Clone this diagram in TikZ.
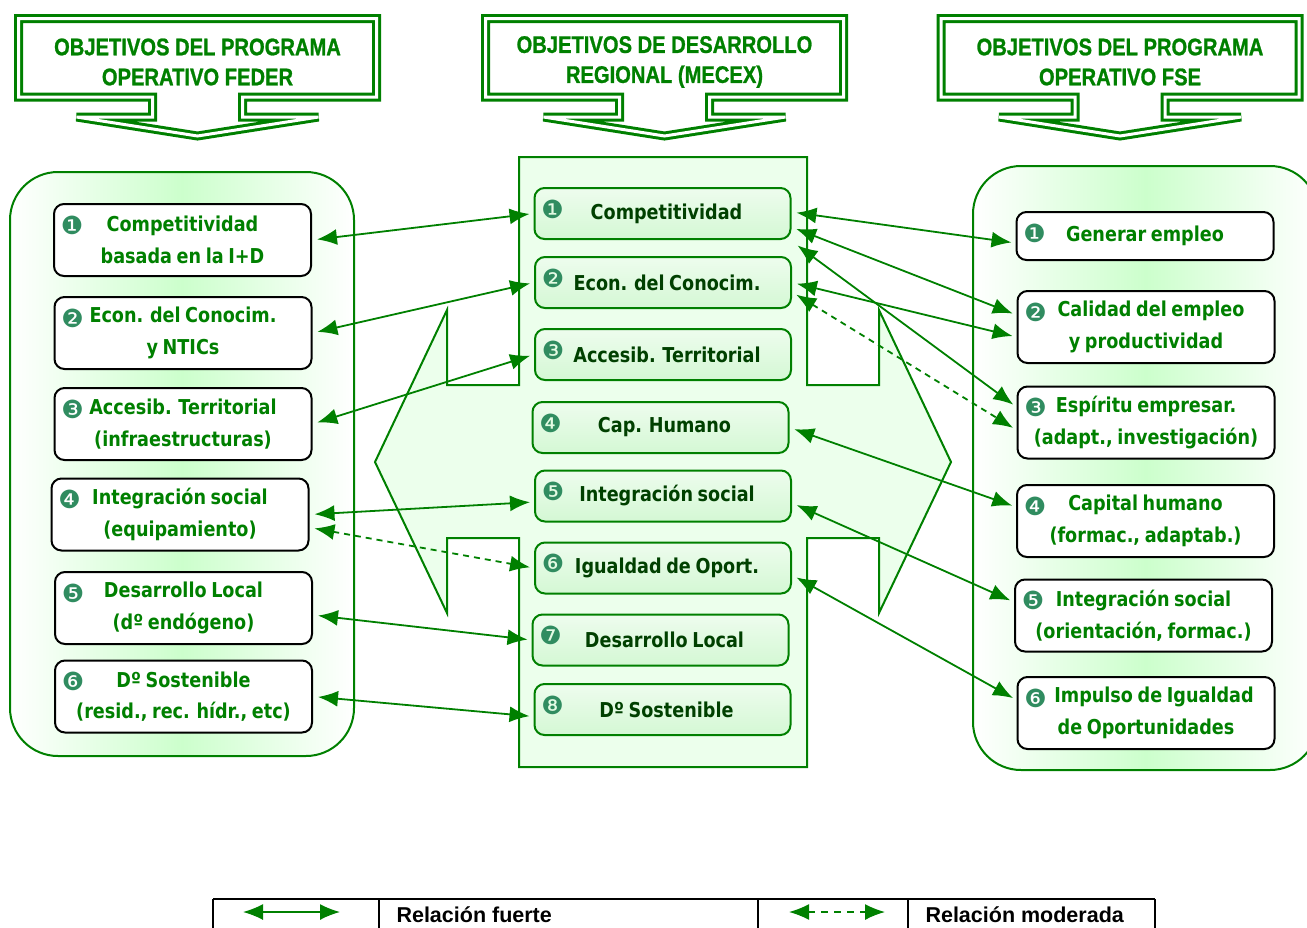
\documentclass[tikz,border=0pt]{standalone}
\usepackage{fontspec}
\setmainfont{DejaVu Sans}[FakeStretch=0.86, WordSpace=0.75]
\newfontfamily\numfont{DejaVu Sans}
\newfontfamily\headfont{Liberation Sans Bold}[FakeStretch=0.84, FakeBold=1]
\newfontfamily\legfont{Liberation Sans}
\usetikzlibrary{arrows.meta, positioning, calc}

\definecolor{objgreen}{RGB}{0,128,0}
\definecolor{objdark}{RGB}{0,64,0}
\definecolor{numgreen}{RGB}{48,140,96}
\definecolor{panelgreen}{RGB}{204,255,204}
\definecolor{crossgreen}{RGB}{236,255,236}
\definecolor{boxgreen}{RGB}{212,248,212}

\newcommand\onum[1]{{\numfont\char\numexpr"2775+#1\relax}}

\begin{document}
\begin{tikzpicture}[x=1pt, y=-1pt,
	headline/.style={draw=objgreen, fill=white, line width=3pt, double=white, double distance=3pt, miter limit=4},
	headtext/.style={text=objgreen, align=center, font=\headfont\fontsize{24}{30}\selectfont},
	panel/.style={draw=objgreen, line width=2pt, rounded corners=48pt, left color=white, right color=white, middle color=panelgreen},
	objbox/.style={draw=black, line width=2pt, rounded corners=10pt, fill=white, minimum width=257pt, minimum height=72pt, inner sep=0pt, align=center, text=objgreen, font=\bfseries\fontsize{20.5}{31.5}\selectfont},
	midbox/.style={draw=objgreen, line width=2pt, rounded corners=10pt, top color=boxgreen!40!white, middle color=white, bottom color=boxgreen, minimum width=256pt, minimum height=51pt, inner sep=0pt, text=objdark, font=\bfseries\fontsize{20.5}{31.5}\selectfont},
	num/.style={anchor=center, xshift=19pt, yshift=-22pt, inner sep=0pt, text=numgreen, font=\fontsize{25}{25}\selectfont},
	link/.style={objgreen, line width=1.8pt, {Latex[length=20pt,width=16pt]}-{Latex[length=20pt,width=16pt]}, shorten <=5pt, shorten >=4pt},
	weak/.style={link, dash pattern=on 6pt off 5pt},
	legline/.style={black, line width=1.5pt},
	legtext/.style={anchor=base west, font=\legfont\bfseries\fontsize{21.5}{24}\selectfont}]
	\useasboundingbox (0,0) rectangle (1307,927);

	% side panels
	\draw[panel] (10,172) rectangle (354,756);
	\draw[panel] (973,166) rectangle (1318,770);

	% central cross
	\draw[objgreen, line width=2pt, fill=crossgreen] (519,157) -- (807,157) -- (807,385) -- (879,385) -- (879,310) -- (951,462) -- (879,613) -- (879,538) -- (807,538) -- (807,767) -- (519,767) -- (519,538) -- (447,538) -- (447,613) -- (375,462) -- (447,310) -- (447,385) -- (519,385) -- cycle;

	% headers
	\foreach \cx/\name/\txt in {197.5/feder/{OBJETIVOS DEL PROGRAMA\\OPERATIVO FEDER}, 664.5/mecex/{OBJETIVOS DE DESARROLLO\\REGIONAL (MECEX)}, 1120/fse/{OBJETIVOS DEL PROGRAMA\\OPERATIVO FSE}}{
		\begin{scope}[xshift=\cx pt]
			\draw[headline] (-179,18.5) -- (179,18.5) -- (179,97) -- (45,97) -- (45,117) -- (121,117) -- (0,136) -- (-121,117) -- (-45,117) -- (-45,97) -- (-179,97) -- cycle;
			\node[headtext] (\name) at (0,62) {\txt};
		\end{scope}
	}

	% FEDER objectives
	\foreach \i/\x/\y/\txt in {1/182.5/240/{Competitividad\\basada en la I+D}, 2/183/333/{Econ. del Conocim.\\y NTICs}, 3/183/424/{Accesib. Territorial\\(infraestructuras)}, 4/180/514.5/{Integración social\\(equipamiento)}, 5/183.5/608/{Desarrollo Local\\(dº endógeno)}, 6/183.5/696.5/{Dº Sostenible\\(resid., rec. hídr., etc)}}
		\node[objbox, label={[num]north west:\onum{\i}}] (f\i) at (\x,\y) {\txt};

	% MECEX objectives
	\foreach \i/\x/\y/\txt in {1/662.5/213.5/Competitividad, 2/663/282.5/Econ. del Conocim., 3/663/354.5/Accesib. Territorial, 4/660.5/427.5/Cap. Humano, 5/663/496/Integración social, 6/663/568/Igualdad de Oport., 7/660.5/640/Desarrollo Local, 8/662.5/709.5/Dº Sostenible}
		\node[midbox, label={[num]north west:\onum{\i}}] (m\i) at (\x,\y) {\hspace*{8pt}\txt};

	% FSE objectives
	\foreach \i/\x/\y/\h/\txt in {1/1145/236/48/{Generar empleo}, 2/1146/327/72/{\hspace*{10pt}Calidad del empleo\\y productividad}, 3/1146/422.5/72/{Espíritu empresar.\\(adapt., investigación)}, 4/1145.5/521/72/{Capital humano\\(formac., adaptab.)}, 5/1143.5/615.5/72/{Integración social\\(orientación, formac.)}, 6/1146/713/72/{\hspace*{16pt}Impulso de Igualdad\\de Oportunidades}}
		\node[objbox, minimum height=\h pt, label={[num]north west:\onum{\i}}] (s\i) at (\x,\y) {\txt};

	% relations FEDER - MECEX
	\draw[link] (f1.east) -- (m1.west);
	\draw[link] (f2.east) -- (m2.west);
	\draw[link] (f3.east) -- (m3.west);
	\draw[link] (f4.east) -- ($(m5.west)+(0,6)$);
	\draw[weak] ($(f4.east)+(0,13)$) -- (m6.west);
	\draw[link] ($(f5.east)+(0,7)$) -- (m7.west);
	\draw[link] (f6.east) -- ($(m8.west)+(0,7)$);

	% relations MECEX - FSE
	\draw[link] ($(m1.east)+(0,-1.5)$) -- ($(s1.west)+(0,7)$);
	\draw[link] ($(m1.east)+(0,13.5)$) -- ($(s2.west)+(0,-12)$);
	\draw[link] ($(m1.east)+(2,29)$) -- ($(s3.west)+(0,-15.5)$);
	\draw[link] (m2.east) -- ($(s2.west)+(0,10)$);
	\draw[weak] ($(m2.east)+(0,9.5)$) -- ($(s3.west)+(0,7.5)$);
	\draw[link] (m4.east) -- ($(s4.west)+(0,-14)$);
	\draw[link] ($(m5.east)+(0,7)$) -- ($(s5.west)+(0,-13.5)$);
	\draw[link] ($(m6.east)+(0,7)$) -- ($(s6.west)+(0,-13)$);

	% legend
	\draw[legline] (213,899) -- (1155,899);
	\foreach \x in {213,379,758,908,1155}
		\draw[legline] (\x,899) -- (\x,940);
	\coordinate (strongA) at (243,912);
	\coordinate (strongB) at (340,912);
	\coordinate (weakA) at (789,912);
	\coordinate (weakB) at (885,912);
	\draw[link, line width=1.5pt, shorten <=0pt, shorten >=0pt] (strongA) -- (strongB);
	\draw[weak, line width=1.5pt, dash pattern=on 7pt off 6pt, shorten <=0pt, shorten >=0pt] (weakA) -- (weakB);
	\node[legtext] (strong) at (393,922) {Relación fuerte};
	\node[legtext] (moderate) at (922,922) {Relación moderada};
\end{tikzpicture}
\end{document}
